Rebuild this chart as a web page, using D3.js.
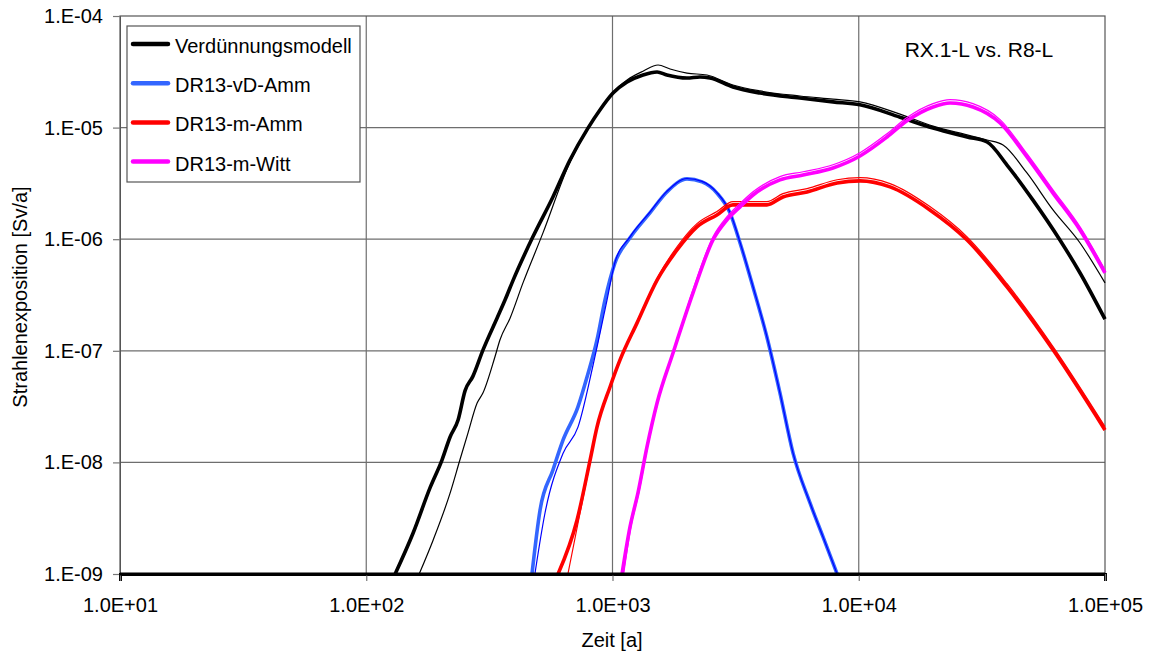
<!DOCTYPE html>
<html><head><meta charset="utf-8">
<script src="https://cdn.jsdelivr.net/npm/d3@7/dist/d3.min.js"></script>
<style>body{margin:0;background:#fff}svg{display:block}text{font-family:"Liberation Sans",Arial,sans-serif;fill:#000}</style>
</head><body><svg id="c" width="1151" height="655"></svg>
<script>
const xTicks = [1e1, 1e2, 1e3, 1e4, 1e5];
const xTickLabels = ["1.0E+01", "1.0E+02", "1.0E+03", "1.0E+04", "1.0E+05"];
const yTicks = [1e-9, 1e-8, 1e-7, 1e-6, 1e-5, 1e-4];
const yTickLabels = ["1.E-09", "1.E-08", "1.E-07", "1.E-06", "1.E-05", "1.E-04"];
const seriesNames = ["Verdünnungsmodell", "DR13-vD-Amm", "DR13-m-Amm", "DR13-m-Witt"];
const annotation = "RX.1-L vs. R8-L";

// thick = RX.1-L, thin = R8-L  (t [a], Strahlenexposition [Sv/a])
const verdThick = [[131,1.0e-9],[155,2.33e-9],[182,6.0e-9],[203,1.05e-8],[219,1.69e-8],[236,2.4e-8],[252,4.4e-8],[271,5.9e-8],[298,1.02e-7],[340,1.97e-7],[366,2.85e-7],[395,4.3e-7],[475,1.05e-6],[573,2.39e-6],[671,5.1e-6],[795,9.9e-6],[889,1.44e-5],[1005,2.04e-5],[1146,2.56e-5],[1330,2.96e-5],[1517,3.15e-5],[1663,2.96e-5],[2007,2.78e-5],[2265,2.84e-5],[2489,2.78e-5],[3083,2.31e-5],[3972,2.04e-5],[5770,1.84e-5],[7860,1.70e-5],[10118,1.60e-5],[14710,1.24e-5],[20030,9.9e-6],[27540,8.24e-6],[33190,7.43e-6],[40000,4.62e-6],[51000,2.24e-6],[65600,9.84e-7],[79200,4.98e-7],[100000,1.92e-7]];
const verdThin = [[164,1.0e-9],[187,2.02e-9],[219,5.3e-9],[240,1.05e-8],[259,1.84e-8],[282,3.4e-8],[298,4.2e-8],[333,8.8e-8],[349,1.25e-7],[384,1.97e-7],[433,4.06e-7],[522,1.14e-6],[659,4.44e-6],[788,9.5e-6],[889,1.44e-5],[1005,2.08e-5],[1146,2.67e-5],[1330,3.2e-5],[1531,3.64e-5],[1713,3.35e-5],[2007,3.08e-5],[2420,2.96e-5],[3083,2.41e-5],[3972,2.13e-5],[5770,1.92e-5],[7860,1.80e-5],[10118,1.70e-5],[14710,1.32e-5],[20030,1.03e-5],[27540,8.6e-6],[33190,7.74e-6],[38550,6.98e-6],[48200,3.92e-6],[61500,1.83e-6],[79200,9.25e-7],[100000,4.06e-7]];
const vdAmmThick = [[471,1.0e-9],[508,3.75e-9],[573,8.55e-9],[630,1.59e-8],[724,3.14e-8],[788,5.82e-8],[865,1.25e-7],[932,2.85e-7],[1023,6.12e-7],[1178,1.03e-6],[1419,1.72e-6],[1663,2.65e-6],[2007,3.47e-6],[2310,3.26e-6],[2655,2.59e-6],[3000,1.72e-6],[3296,9.25e-7],[3720,3.73e-7],[4236,1.33e-7],[4786,4.2e-8],[5410,1.21e-8],[6340,4.33e-9],[7160,2.15e-9],[8170,1.0e-9]];
const vdAmmThin = [[484,1.0e-9],[532,3.52e-9],[630,1.21e-8],[724,2.07e-8],[834,7.46e-8],[950,2.85e-7],[1023,6.2e-7],[1178,1.05e-6],[1419,1.75e-6],[1663,2.68e-6],[2007,3.5e-6],[2310,3.3e-6],[2655,2.62e-6],[3000,1.74e-6],[3296,9.35e-7],[3720,3.76e-7],[4236,1.34e-7],[4786,4.2e-8],[5410,1.21e-8],[6340,4.33e-9],[7160,2.15e-9],[8170,1.0e-9]];
const mAmmThick = [[601,1.0e-9],[718,3.05e-9],[811,1.05e-8],[865,2.07e-8],[977,4.74e-8],[1073,8.28e-8],[1257,1.77e-7],[1517,4.3e-7],[1828,8.0e-7],[2203,1.29e-6],[2655,1.65e-6],[3083,2.03e-6],[3720,2.03e-6],[4236,2.03e-6],[4920,2.39e-6],[6170,2.65e-6],[8170,3.19e-6],[10118,3.33e-6],[13400,2.94e-6],[19450,1.83e-6],[27540,9.84e-7],[40000,3.73e-7],[61500,1.02e-7],[100000,1.95e-8]];
const mAmmThin = [[659,1.0e-9],[738,3.52e-9],[811,1.0e-8],[865,2.07e-8],[977,4.8e-8],[1073,8.4e-8],[1257,1.8e-7],[1517,4.45e-7],[1828,8.56e-7],[2203,1.38e-6],[2655,1.77e-6],[3083,2.17e-6],[3720,2.17e-6],[4236,2.17e-6],[4920,2.56e-6],[6170,2.84e-6],[8170,3.41e-6],[10118,3.56e-6],[13400,3.15e-6],[19450,1.96e-6],[27540,1.05e-6],[40000,3.99e-7],[61500,1.09e-7],[100000,2.09e-8]];
const mWittThick = [[1093,1.0e-9],[1178,2.64e-9],[1269,5.32e-9],[1380,1.37e-8],[1517,3.41e-8],[1761,9.56e-8],[2123,3.30e-7],[2559,9.84e-7],[2917,1.49e-6],[3296,1.95e-6],[3720,2.49e-6],[4786,3.40e-6],[5940,3.76e-6],[7860,4.35e-6],[10118,5.57e-6],[13030,8.24e-6],[15700,1.15e-5],[20030,1.53e-5],[23500,1.66e-5],[29100,1.53e-5],[37500,1.10e-5],[48200,5.46e-6],[61500,2.59e-6],[79200,1.21e-6],[100000,4.98e-7]];
const mWittThin = [[1110,1.0e-9],[1190,2.7e-9],[1280,5.4e-9],[1390,1.4e-8],[1530,3.5e-8],[1770,9.8e-8],[2123,3.53e-7],[2559,1.05e-6],[2917,1.59e-6],[3296,2.09e-6],[3720,2.66e-6],[4786,3.64e-6],[5940,4.02e-6],[7860,4.65e-6],[10118,5.96e-6],[13030,8.82e-6],[15700,1.23e-5],[20030,1.64e-5],[23500,1.78e-5],[29100,1.64e-5],[37500,1.18e-5],[48200,5.84e-6],[61500,2.77e-6],[79200,1.29e-6],[100000,5.33e-7]];

const colors = ["#000000", "#3366FF", "#FF0000", "#FF00FF"];
const thinColors = ["#000000", "#0000FF", "#FF0000", "#FF00FF"];

const svg = d3.select("#c");
const L = 120, R = 1105, T = 16, B = 574;
const x = d3.scaleLog().domain([1e1, 1e5]).range([L, R]);
const y = d3.scaleLog().domain([1e-9, 1e-4]).range([B, T]);
const grid = "#6e6e6e";

svg.append("defs").append("clipPath").attr("id","clip").append("rect")
  .attr("x", L).attr("y", T - 2).attr("width", R - L + 2).attr("height", B - T + 2);

// grid
svg.append("g").selectAll("line").data(yTicks.slice(1, -1)).join("line")
  .attr("x1", L).attr("x2", R).attr("y1", d => y(d)).attr("y2", d => y(d))
  .attr("stroke", grid).attr("stroke-width", 1.2);
svg.append("g").selectAll("line").data(xTicks.slice(1, -1)).join("line")
  .attr("y1", T).attr("y2", B).attr("x1", d => x(d)).attr("x2", d => x(d))
  .attr("stroke", grid).attr("stroke-width", 1.2);
// border
svg.append("rect").attr("x", L).attr("y", T).attr("width", R - L).attr("height", B - T)
  .attr("fill", "none").attr("stroke", "#555").attr("stroke-width", 1.2);

// axes
const yAxis = d3.axisLeft(y).tickValues(yTicks).tickSize(7).tickPadding(10)
  .tickFormat((d, i) => yTickLabels[i]);
const gy = svg.append("g").attr("transform", `translate(${L},0)`).call(yAxis);
gy.select(".domain").attr("stroke", "#555");
gy.selectAll(".tick line").attr("stroke", "#777").attr("stroke-width", 1.2);
gy.selectAll(".tick text").style("font-size", "20px").attr("fill", "#000");

const xAxis = d3.axisBottom(x).tickValues(xTicks).tickSize(7).tickPadding(17)
  .tickFormat((d, i) => xTickLabels[i]);
const gx = svg.append("g").attr("transform", `translate(0,${B})`).call(xAxis);
gx.select(".domain").attr("stroke", "#000").attr("stroke-width", 3);
gx.selectAll(".tick line").attr("stroke", "#777").attr("stroke-width", 1.2);
gx.selectAll(".tick text").style("font-size", "20px").attr("fill", "#000");

// lines
const line = d3.line().x(d => x(d[0])).y(d => y(d[1])).curve(d3.curveMonotoneX);
const pairs = [[verdThick, verdThin], [vdAmmThick, vdAmmThin], [mAmmThick, mAmmThin], [mWittThick, mWittThin]];
const gl = svg.append("g").attr("clip-path", "url(#clip)");
pairs.forEach((p, i) => {
  gl.append("path").attr("d", line(p[0])).attr("fill", "none")
    .attr("stroke", colors[i]).attr("stroke-width", 3.6).attr("stroke-linejoin", "round");
  gl.append("path").attr("d", line(p[1])).attr("fill", "none")
    .attr("stroke", thinColors[i]).attr("stroke-width", 1.2).attr("stroke-linejoin", "round");
});

// redraw bottom axis line over curves
svg.append("line").attr("x1", L).attr("x2", R).attr("y1", B).attr("y2", B)
  .attr("stroke", "#000").attr("stroke-width", 3);

// legend
const lg = svg.append("g");
lg.append("rect").attr("x", 127).attr("y", 26).attr("width", 233).attr("height", 156)
  .attr("fill", "#fff").attr("stroke", "#555").attr("stroke-width", 1.2);
seriesNames.forEach((n, i) => {
  const yy = 44 + i * 39.2;
  lg.append("line").attr("x1", 133).attr("x2", 168).attr("y1", yy).attr("y2", yy)
    .attr("stroke", colors[i]).attr("stroke-width", 4.5).attr("stroke-linecap", "round");
  lg.append("text").attr("x", 175).attr("y", yy + 9).style("font-size", "20px").text(n);
});

svg.append("text").attr("x", 979).attr("y", 57).attr("text-anchor", "middle")
  .style("font-size", "21px").text(annotation);

svg.append("text").attr("x", 612).attr("y", 647).attr("text-anchor", "middle")
  .style("font-size", "20px").text("Zeit [a]");
svg.append("text").attr("transform", "translate(27,297) rotate(-90)").attr("text-anchor", "middle")
  .style("font-size", "20px").text("Strahlenexposition [Sv/a]");
</script></body></html>
